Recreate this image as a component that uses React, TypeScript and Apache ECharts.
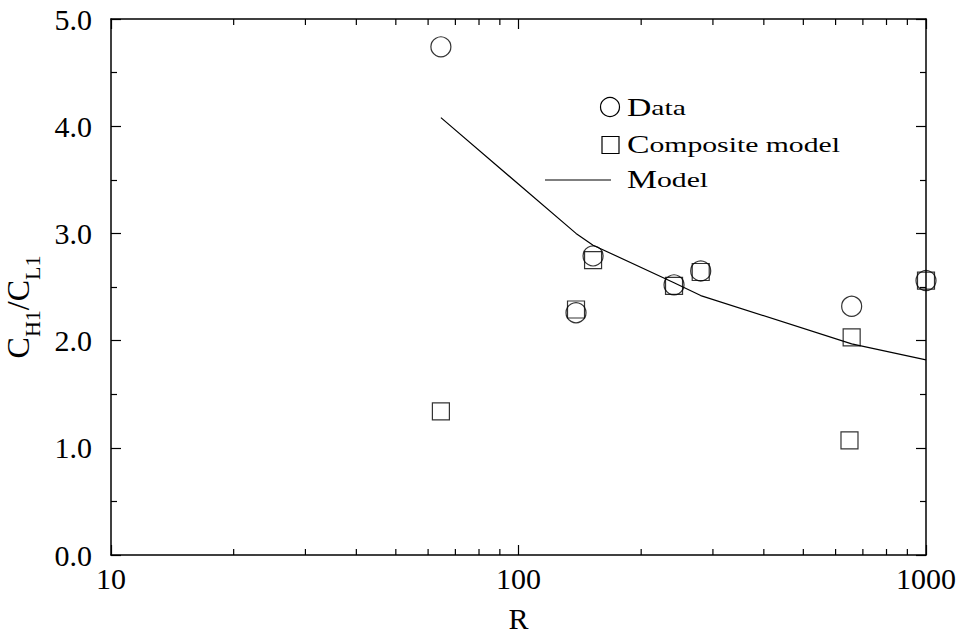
import React, { useEffect, useRef } from "react";
import * as echarts from "echarts";

const FONT = '"Liberation Serif", "Times New Roman", serif';

// Data
const dataR = [64.5, 138.4, 152.4, 240.8, 280, 657, 1000];
const dataV = [4.74, 2.26, 2.79, 2.52, 2.65, 2.32, 2.56];
const compR = [64.5, 138.4, 152.4, 240.8, 280, 657, 649, 1000];
const compV = [1.34, 2.29, 2.75, 2.51, 2.64, 2.03, 1.07, 2.56];
const modelR = [64.5, 138.4, 152.4, 240.8, 280, 657, 1000];
const modelV = [4.08, 3.0, 2.89, 2.54, 2.42, 1.97, 1.82];
const xMinorTicks = [20, 30, 40, 50, 60, 70, 80, 90, 200, 300, 400, 500, 600, 700, 800, 900];
const legendNames = ["Data", "Composite model", "Model"];

export default function App() {
  const ref = useRef<HTMLDivElement>(null);
  useEffect(() => {
    if (!ref.current) return;
    document.body.style.margin = "0";
    const chart = echarts.init(ref.current, null, { renderer: "svg" });
    const axisLine = { show: true, onZero: false, lineStyle: { color: "#000", width: 1.5 } };
    const tick = { show: true, inside: true, length: 10, lineStyle: { color: "#000", width: 1.2 } };
    const minor = { show: true, splitNumber: 2, length: 6, lineStyle: { color: "#000", width: 1.2 } };
    const legendText = (name: string) => `{b|${name[0]}}{r|${name.slice(1)}}`;
    const legendRich = {
      b: { fontFamily: FONT, fontSize: 25, fill: "#000", verticalAlign: "middle" },
      r: { fontFamily: FONT, fontSize: 22, fill: "#000", verticalAlign: "middle" },
    };
    const option: any = {
      animation: false,
      backgroundColor: "#fff",
      tooltip: { show: false },
      grid: { left: 111, right: 37, top: 19, bottom: 84, containLabel: false, outerBoundsMode: "none" },
      xAxis: [
        {
          type: "log",
          logBase: 10,
          min: 10,
          max: 1000,
          position: "bottom",
          name: "R",
          nameLocation: "middle",
          nameGap: 48,
          nameTextStyle: { fontFamily: FONT, fontSize: 30, color: "#000" },
          axisLine,
          axisTick: tick,
          axisLabel: {
            fontFamily: FONT,
            fontSize: 30,
            color: "#000",
            margin: 8,
            formatter: (v: number) => String(Math.round(v)),
          },
          splitLine: { show: false },
        },
        {
          type: "log",
          logBase: 10,
          min: 10,
          max: 1000,
          position: "top",
          axisLine,
          axisTick: tick,
          axisLabel: { show: false },
          splitLine: { show: false },
        },
      ],
      yAxis: [
        {
          type: "value",
          min: 0,
          max: 5,
          interval: 1,
          position: "left",
          name: "{c|C}{s|H1}{c|/C}{s|L1}",
          nameLocation: "middle",
          nameGap: 55,
          nameTextStyle: {
            fontFamily: FONT,
            color: "#000",
            padding: [0, 40, 0, 0],
            rich: {
              c: { fontFamily: FONT, fontSize: 32, lineHeight: 32, verticalAlign: "top", color: "#000" },
              s: { fontFamily: FONT, fontSize: 22, lineHeight: 42, verticalAlign: "bottom", color: "#000" },
            },
          },
          axisLine,
          axisTick: tick,
          minorTick: minor,
          axisLabel: {
            fontFamily: FONT,
            fontSize: 30,
            color: "#000",
            margin: 19,
            formatter: (v: number) => v.toFixed(1),
          },
          splitLine: { show: false },
          minorSplitLine: { show: false },
        },
        {
          type: "value",
          min: 0,
          max: 5,
          interval: 1,
          position: "right",
          axisLine,
          axisTick: tick,
          minorTick: minor,
          axisLabel: { show: false },
          splitLine: { show: false },
          minorSplitLine: { show: false },
        },
      ],
      graphic: [
        { type: "circle", shape: { cx: 610, cy: 107, r: 9.5 }, style: { fill: "none", stroke: "#000", lineWidth: 1.2 } },
        {
          type: "text",
          x: 627,
          y: 108,
          scaleX: 1.35,
          style: { text: legendText(legendNames[0]), rich: legendRich, fontFamily: FONT, fontSize: 22, fill: "#000", verticalAlign: "middle" },
        },
        { type: "rect", shape: { x: 602, y: 136.5, width: 17, height: 17 }, style: { fill: "none", stroke: "#000", lineWidth: 1.2 } },
        {
          type: "text",
          x: 627,
          y: 145,
          scaleX: 1.35,
          style: { text: legendText(legendNames[1]), rich: legendRich, fontFamily: FONT, fontSize: 22, fill: "#000", verticalAlign: "middle" },
        },
        { type: "line", shape: { x1: 545, y1: 180, x2: 611, y2: 180 }, style: { stroke: "#000", lineWidth: 1.2 } },
        {
          type: "text",
          x: 627,
          y: 180,
          scaleX: 1.35,
          style: { text: legendText(legendNames[2]), rich: legendRich, fontFamily: FONT, fontSize: 22, fill: "#000", verticalAlign: "middle" },
        },
      ],
      series: [
        {
          name: legendNames[1],
          type: "scatter",
          data: compR.map((r, i) => [r, compV[i]]),
          symbol: "rect",
          symbolSize: 17,
          clip: false,
          silent: true,
          itemStyle: { color: "transparent", borderColor: "#000", borderWidth: 1.2 },
          z: 3,
        },
        {
          name: legendNames[0],
          type: "scatter",
          data: dataR.map((r, i) => [r, dataV[i]]),
          symbol: "circle",
          symbolSize: 20,
          clip: false,
          silent: true,
          itemStyle: { color: "transparent", borderColor: "#000", borderWidth: 1.2 },
          z: 4,
        },
        {
          name: legendNames[2],
          type: "line",
          data: modelR.map((r, i) => [r, modelV[i]]),
          symbol: "none",
          showSymbol: false,
          silent: true,
          lineStyle: { color: "#000", width: 1.2 },
          z: 2,
        },
        {
          type: "custom",
          silent: true,
          clip: false,
          data: xMinorTicks.map((v) => [v, 0]),
          renderItem: (params: any, api: any) => {
            const v = api.value(0);
            const b = api.coord([v, 0]);
            const t = api.coord([v, 5]);
            const st = { stroke: "#000", lineWidth: 1.2 };
            return {
              type: "group",
              children: [
                { type: "line", shape: { x1: b[0], y1: b[1], x2: b[0], y2: b[1] - 6 }, style: st },
                { type: "line", shape: { x1: t[0], y1: t[1], x2: t[0], y2: t[1] + 6 }, style: st },
              ],
            };
          },
          z: 5,
        },
      ],
    };
    chart.setOption(option);
    return () => chart.dispose();
  }, []);
  return <div ref={ref} style={{ width: 963, height: 639, background: "#fff" }} />;
}
